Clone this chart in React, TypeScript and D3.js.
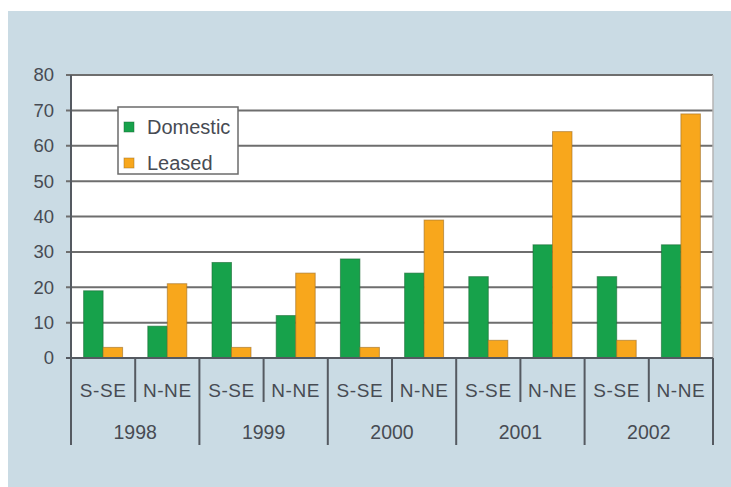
import React from 'react';
import * as d3 from 'd3';

const years = ['1998', '1999', '2000', '2001', '2002'];
const regions = ['S-SE', 'N-NE'];
const seriesNames = ['Domestic', 'Leased'];
const domestic = [19, 9, 27, 12, 28, 24, 23, 32, 23, 32];
const leased = [3, 21, 3, 24, 3, 39, 5, 64, 5, 69];
const yTicks = [0, 10, 20, 30, 40, 50, 60, 70, 80];

const W = 731;
const H = 487;
const M = { left: 71, right: 713, top: 75, bottom: 358 };
const FONT = 'Liberation Sans, Arial, sans-serif';
const TEXT = '#474b53';
const GRID = '#6e6e6e';
const AXIS = '#555a61';
const GREEN = '#17a24b';
const GREEN_EDGE = '#1a6b35';
const ORANGE = '#f8a71c';
const ORANGE_EDGE = '#9c6d25';

export default function App() {
  const cats = years.flatMap((y) => regions.map((r) => `${y}|${r}`));
  const x = d3.scaleBand<string>().domain(cats).range([M.left, M.right]).paddingInner(0).paddingOuter(0);
  const xYear = d3.scaleBand<string>().domain(years).range([M.left, M.right]);
  const y = d3.scaleLinear().domain([0, 80]).range([M.bottom, M.top]);
  const barW = 19.5;
  const series = [
    { name: seriesNames[0], values: domestic, fill: GREEN, edge: GREEN_EDGE },
    { name: seriesNames[1], values: leased, fill: ORANGE, edge: ORANGE_EDGE },
  ];

  return (
    <svg width={W} height={H} style={{ position: 'absolute', left: 0, top: 0 }} fontFamily={FONT}>
      <rect x={0} y={0} width={W} height={H} fill="#ffffff" />
      <rect x={8} y={11} width={W - 8} height={H - 11} fill="#cadbe4" />
      <rect x={M.left} y={M.top} width={M.right - M.left} height={M.bottom - M.top} fill="#ffffff" />
      {yTicks.map((t) => (
        <g key={t}>
          <line x1={M.left - 5} x2={M.right} y1={y(t)} y2={y(t)} stroke={GRID} strokeWidth={2} />
          <text x={54} y={y(t)} dy="0.35em" textAnchor="end" fontSize={18.5} fill={TEXT}>
            {t}
          </text>
        </g>
      ))}
      <line x1={M.right} x2={M.right} y1={M.top} y2={M.bottom} stroke="#b5b5b5" strokeWidth={1.5} />
      <line x1={M.left} x2={M.left} y1={M.top} y2={M.bottom} stroke={AXIS} strokeWidth={2} />
      {series.map((s, si) =>
        cats.map((c, i) => {
          const cx = (x(c) as number) + x.bandwidth() / 2;
          const x0 = cx - barW + si * barW;
          return (
            <rect
              key={`${si}-${i}`}
              x={x0}
              y={y(s.values[i])}
              width={barW}
              height={y(0) - y(s.values[i])}
              fill={s.fill}
              stroke={s.edge}
              strokeWidth={1}
              strokeOpacity={0.6}
            />
          );
        })
      )}
      <line x1={M.left - 5} x2={M.right} y1={y(0)} y2={y(0)} stroke={AXIS} strokeWidth={2} />
      {cats.map((c, i) => {
        const x0 = x(c) as number;
        const isGroup = i % 2 === 0;
        return (
          <g key={c}>
            <line x1={x0} x2={x0} y1={M.bottom} y2={isGroup ? 445 : 402} stroke={AXIS} strokeWidth={2} />
            <text x={x0 + x.bandwidth() / 2} y={390} dy="0.35em" textAnchor="middle" fontSize={19} fill={TEXT} letterSpacing={0.6}>
              {c.split('|')[1]}
            </text>
          </g>
        );
      })}
      <line x1={M.right} x2={M.right} y1={M.bottom} y2={445} stroke={AXIS} strokeWidth={2} />
      {years.map((yr) => (
        <text key={yr} x={(xYear(yr) as number) + xYear.bandwidth() / 2} y={432} dy="0.35em" textAnchor="middle" fontSize={19.5} fill={TEXT}>
          {yr}
        </text>
      ))}
      <g>
        <rect x={118} y={107} width={120} height={67} fill="#ffffff" stroke="#6b6b6b" strokeWidth={1.5} />
        {series.map((s, i) => (
          <g key={s.name} transform={`translate(124, ${122 + i * 36})`}>
            <rect x={0} y={0} width={10} height={10} fill={s.fill} stroke={s.edge} strokeWidth={0.8} strokeOpacity={0.6} />
            <text x={23} y={5} dy="0.35em" fontSize={20} fill={TEXT}>
              {s.name}
            </text>
          </g>
        ))}
      </g>
    </svg>
  );
}
